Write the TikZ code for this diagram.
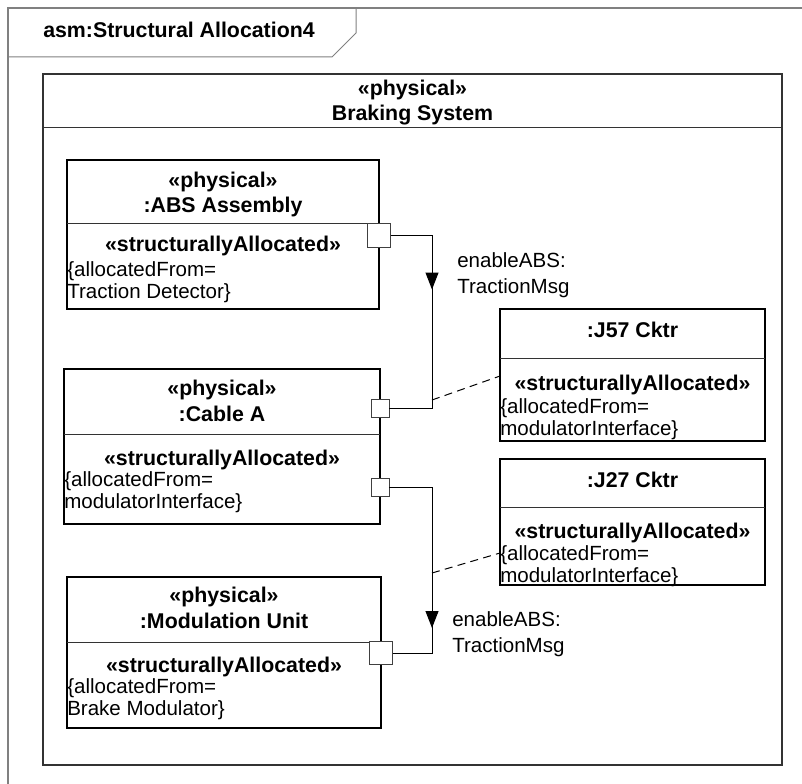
\documentclass[tikz,border=0pt]{standalone}
\usepackage{fontspec}
\setmainfont{Liberation Sans}
\usetikzlibrary{arrows.meta}

\newcommand{\partfont}{\fontsize{16}{19}\selectfont\bfseries}
\newcommand{\propfont}{\fontsize{15.4}{16.5}\selectfont}
\newcommand{\lblfont}{\fontsize{15.4}{19}\selectfont}

\tikzset{
  part/.style={draw=black, line width=1.1pt, inner sep=0pt, outer sep=0pt},
  port/.style={draw=black!75, fill=white, line width=0.75pt, inner sep=0pt, outer sep=0pt, minimum size=#1},
  wire/.style={draw=black, line width=0.75pt},
  flowtip/.style={-{Triangle[length=12.75pt, width=9.75pt]}},
  allocline/.style={draw=black, line width=0.75pt, dash pattern=on 6pt off 4pt},
  divider/.style={draw=black!80, line width=0.75pt}
}

\begin{document}
\begin{tikzpicture}[x=0.75pt,y=-0.75pt]
  \useasboundingbox (0,0) rectangle (802,784);

  % diagram frame and its name tab
  \draw[black!50, line width=1.5pt] (8,784) -- (8,8) -- (802,8);
  \draw[black!50, line width=0.75pt] (8,57) -- (332,57) -- (356,33) -- (356,8);
  \node[anchor=base west, inner sep=0pt, font=\fontsize{16}{19}\selectfont\bfseries] (title) at (43,38) {asm:Structural Allocation4};

  % enclosing block (multi-line texts sit on their last baseline)
  \node[part, draw=black!80, line width=1.5pt, minimum width=554.25pt, minimum height=518.25pt] (braking) at (412.5,419.5) {};
  \draw[divider] (braking.west |- 0,128) -- (braking.east |- 0,128);
  \node[anchor=base, align=center, inner sep=0pt, font=\partfont] (brakingname) at (412.5,121) {«physical»\\Braking System};

  % parts
  \node[part, minimum width=234pt, minimum height=111.75pt] (abs) at (223,234.5) {};
  \draw[divider] (abs.west |- 0,224) -- (abs.east |- 0,224);
  \node[anchor=base, align=center, inner sep=0pt, font=\partfont] (absname) at (223,213) {«physical»\\:ABS Assembly};
  \node[anchor=base, inner sep=0pt, font=\partfont] (absalloc) at (223,252) {«structurallyAllocated»};
  \node[anchor=base west, align=left, inner sep=0pt, font=\propfont] (absfrom) at (67,298) {\{allocatedFrom=\\Traction Detector\}};

  \node[part, minimum width=237pt, minimum height=116.25pt] (cable) at (222,446.5) {};
  \draw[divider] (cable.west |- 0,434) -- (cable.east |- 0,434);
  \node[anchor=base, align=center, inner sep=0pt, font=\partfont] (cablename) at (222,421) {«physical»\\:Cable A};
  \node[anchor=base, inner sep=0pt, font=\partfont] (cablealloc) at (222,465) {«structurallyAllocated»};
  \node[anchor=base west, align=left, inner sep=0pt, font=\propfont] (cablefrom) at (64,508) {\{allocatedFrom=\\modulatorInterface\}};

  \node[part, minimum width=235.5pt, minimum height=113.25pt] (mod) at (224,652.5) {};
  \draw[divider] (mod.west |- 0,642) -- (mod.east |- 0,642);
  \node[anchor=base, align=center, inner sep=0pt, font=\partfont] (modname) at (224,628) {«physical»\\:Modulation Unit};
  \node[anchor=base, inner sep=0pt, font=\partfont] (modalloc) at (224,672) {«structurallyAllocated»};
  \node[anchor=base west, align=left, inner sep=0pt, font=\propfont] (modfrom) at (67,715) {\{allocatedFrom=\\Brake Modulator\}};

  % connectors
  \node[part, minimum width=198.75pt, minimum height=99pt] (j57) at (632.5,375) {};
  \draw[divider] (j57.west |- 0,358) -- (j57.east |- 0,358);
  \node[anchor=base, inner sep=0pt, font=\partfont] (j57name) at (632.5,337) {:J57 Cktr};
  \node[anchor=base, inner sep=0pt, font=\partfont] (j57alloc) at (632.5,390) {«structurallyAllocated»};
  \node[anchor=base west, align=left, inner sep=0pt, font=\propfont] (j57from) at (500,435) {\{allocatedFrom=\\modulatorInterface\}};

  \node[part, minimum width=198.75pt, minimum height=94.5pt] (j27) at (632.5,522) {};
  \draw[divider] (j27.west |- 0,507) -- (j27.east |- 0,507);
  \node[anchor=base, inner sep=0pt, font=\partfont] (j27name) at (632.5,487) {:J27 Cktr};
  \node[anchor=base, inner sep=0pt, font=\partfont] (j27alloc) at (632.5,538) {«structurallyAllocated»};
  \node[anchor=base west, align=left, inner sep=0pt, font=\propfont] (j27from) at (500,582) {\{allocatedFrom=\\modulatorInterface\}};

  % ports
  \node[port=17.25pt] (absout) at (379,235.5) {};
  \node[port=13.5pt] (cablein) at (380,408) {};
  \node[port=13.5pt] (cableout) at (380,487) {};
  \node[port=17.25pt] (modin) at (381,653) {};

  % item flows
  \coordinate (bus) at (432,0);
  \draw[wire] (absout.east) -| (bus |- cablein.east) -- (cablein.east);
  \draw[wire, flowtip] (absout.east -| bus) -- ++(0,54);
  \node[anchor=base west, align=left, inner sep=0pt, font=\lblfont] (msgtop) at (457,293) {enableABS:\\TractionMsg};

  \draw[wire] (cableout.east) -| (bus |- modin.east) -- (modin.east);
  \draw[wire, flowtip] (cableout.east -| bus) -- ++(0,141);
  \node[anchor=base west, align=left, inner sep=0pt, font=\lblfont] (msgbottom) at (452,652) {enableABS:\\TractionMsg};

  % allocation of the connectors
  \coordinate (taptop) at (432,400);
  \coordinate (tapbottom) at (432,573);
  \draw[allocline] (taptop) -- ([yshift=-0.75pt]j57.west);
  \draw[allocline] (tapbottom) -- ([yshift=-23.25pt]j27.west);
\end{tikzpicture}
\end{document}
